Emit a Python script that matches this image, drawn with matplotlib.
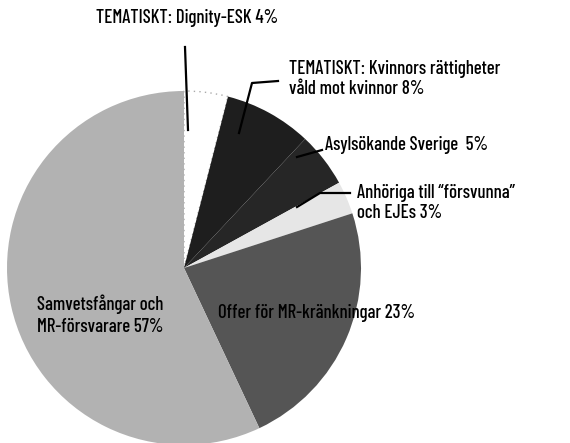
import matplotlib.pyplot as plt
import numpy as np

labels = ['TEMATISKT: Dignity-ESK 4%',
          'TEMATISKT: Kvinnors rättigheter\nvåld mot kvinnor 8%',
          'Asylsökande Sverige  5%',
          'Anhöriga till \u201cförsvunna\u201d\noch EJEs 3%',
          'Offer för MR-kränkningar 23%',
          'Samvetsfångar och\nMR-försvarare 57%']
values = [4, 8, 5, 3, 23, 57]
colors = ['#ffffff', '#1e1e1e', '#262626', '#e6e6e6', '#555555', '#b2b2b2']

plt.rcParams['font.family'] = ['Barlow Condensed', 'Archivo Narrow', 'DejaVu Sans']

W, H = 570, 443
fig = plt.figure(figsize=(5.7, 4.43), dpi=100)
ax = fig.add_axes([0, 0, 1, 1])

cx, cy, r = 184, H - 268, 177
wedges, _ = ax.pie(values, startangle=90, counterclock=False, colors=colors,
                   center=(cx, cy), radius=r, frame=True,
                   wedgeprops=dict(linewidth=0))
wedges[0].set_edgecolor('#aaaaaa')
wedges[0].set_linestyle((0, (1, 3)))
wedges[0].set_linewidth(1)

ax.set_xlim(0, W)
ax.set_ylim(0, H)
ax.set_aspect('equal')
ax.axis('off')

fs = 13.5
fw = 'medium'
lk = dict(color='black', lw=1.6)

def py(y):
    return H - y

# Dignity
ax.text(187, py(18), labels[0], ha='center', va='center', fontsize=fs, fontweight=fw)
ax.plot([185, 188], [py(47), py(130)], **lk)
# Kvinnors
ax.text(289, py(79), labels[1], ha='left', va='center', fontsize=fs, fontweight=fw,
        linespacing=1.1)
ax.plot([278, 252, 239], [py(81), py(83), py(133)], **lk)
# Asyl
ax.text(325, py(145), labels[2], ha='left', va='center', fontsize=fs, fontweight=fw)
ax.plot([322, 297], [py(150), py(157)], **lk)
# Anhöriga
ax.text(357, py(203), labels[3], ha='left', va='center', fontsize=fs, fontweight=fw,
        linespacing=1.1)
ax.plot([350, 320, 297], [py(193), py(193), py(207)], **lk)
# Offer
ax.text(218, py(313), labels[4], ha='left', va='center', fontsize=fs, fontweight=fw)
# Samvets
ax.text(100, py(315), labels[5], ha='center', va='center', fontsize=fs, fontweight=fw,
        linespacing=1.25)

fig.savefig('out.png', dpi=100)
